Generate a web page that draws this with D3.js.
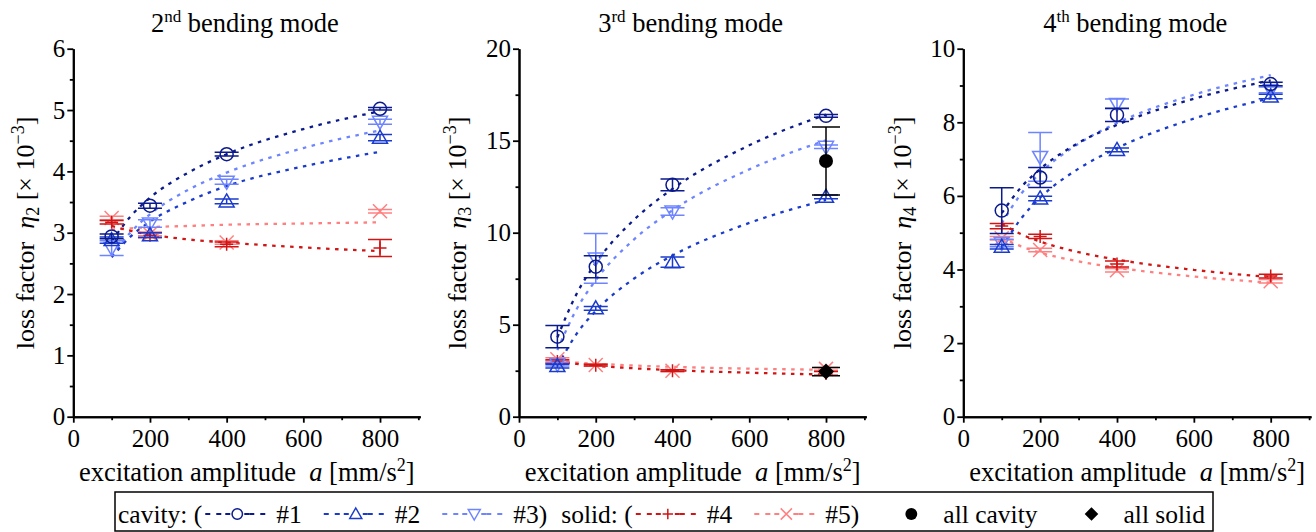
<!DOCTYPE html>
<html><head><meta charset="utf-8">
<script src="https://cdn.jsdelivr.net/npm/d3@7"></script>
<style>
body{margin:0;background:#fff}
svg{display:block}
text{font-family:"Liberation Serif","Times New Roman",serif;fill:#000}
</style>
</head><body>
<svg id="c" width="1316" height="532"></svg>
<script>
// ---------- DATA ----------
const amplitudes = [100, 200, 400, 800];
const fitAmplitudes = [100, 150, 200, 300, 400, 600, 800];
const seriesLabels = ["#1", "#2", "#3", "#4", "#5"];
const modeNumbers = ["2", "3", "4"];
const modeSuffixes = ["nd", "rd", "th"];
const xTickValues = [0, 200, 400, 600, 800];

// 2nd bending mode, eta2 [x10^-3]
const eta2Mean = [
  [2.94, 3.44, 4.28, 5.02],
  [2.88, 2.96, 3.51, 4.55],
  [2.75, 3.15, 3.83, 4.81],
  [3.17, 2.96, 2.81, 2.75],
  [3.24, 2.98, 2.84, 3.35]
];
const eta2Err = [
  [0.04, 0.04, 0.03, 0.02],
  [0.05, 0.04, 0.04, 0.05],
  [0.12, 0.06, 0.04, 0.04],
  [0.03, 0.04, 0.04, 0.14],
  [0.03, 0.03, 0.03, 0.03]
];
const eta2Fit = [
  [2.86, 3.27, 3.57, 3.98, 4.28, 4.69, 4.98],
  [2.60, 2.94, 3.18, 3.51, 3.76, 4.08, 4.32],
  [2.61, 3.01, 3.30, 3.70, 3.98, 4.38, 4.67],
  [3.11, 3.03, 2.97, 2.89, 2.84, 2.76, 2.70],
  [3.05, 3.07, 3.09, 3.11, 3.13, 3.15, 3.17]
];

// 3rd bending mode, eta3 [x10^-3]
const eta3Mean = [
  [4.35, 8.15, 12.6, 16.35],
  [2.75, 5.89, 8.40, 11.95],
  [2.86, 8.60, 11.15, 14.67],
  [3.00, 2.80, 2.50, 2.35],
  [3.12, 2.81, 2.50, 2.60]
];
const eta3Err = [
  [0.60, 0.60, 0.32, 0.08],
  [0.10, 0.10, 0.28, 0.10],
  [0.10, 1.35, 0.20, 0.10],
  [0.10, 0.05, 0.05, 0.10],
  [0.08, 0.05, 0.05, 0.08]
];
const eta3Fit = [
  [4.31, 6.67, 8.35, 10.71, 12.38, 14.75, 16.42],
  [2.73, 4.50, 5.75, 7.51, 8.76, 10.53, 11.78],
  [3.62, 5.84, 7.42, 9.64, 11.22, 13.44, 15.02],
  [3.01, 2.87, 2.77, 2.63, 2.53, 2.39, 2.29],
  [3.04, 2.94, 2.88, 2.78, 2.71, 2.61, 2.55]
];
const eta3AllCavity = [13.9];
const eta3AllCavityErr = [1.85];
const eta3AllSolid = [2.45];
const eta3AllSolidErr = [0.22];
const allAmplitude = [800];

// 4th bending mode, eta4 [x10^-3]
const eta4Mean = [
  [5.60, 6.50, 8.20, 9.04],
  [4.62, 5.93, 7.25, 8.70],
  [4.72, 7.06, 8.50, 8.88],
  [5.18, 4.90, 4.15, 3.82],
  [4.85, 4.53, 3.98, 3.68]
];
const eta4Err = [
  [0.62, 0.27, 0.18, 0.05],
  [0.06, 0.06, 0.05, 0.06],
  [0.10, 0.66, 0.13, 0.08],
  [0.07, 0.06, 0.08, 0.05],
  [0.05, 0.05, 0.05, 0.05]
];
const eta4Fit = [
  [5.53, 6.23, 6.73, 7.44, 7.93, 8.64, 9.14],
  [4.59, 5.38, 5.95, 6.74, 7.30, 8.10, 8.66],
  [5.25, 6.05, 6.62, 7.42, 7.98, 8.75, 9.28],
  [5.24, 4.96, 4.76, 4.47, 4.27, 3.99, 3.79],
  [4.87, 4.63, 4.46, 4.22, 4.05, 3.81, 3.64]
];

// ---------- STYLE ----------
const colors = ["#0b1a8c", "#1a3bcc", "#6e85ff", "#d11515", "#ff8080"];
const markers = ["circle", "up", "down", "plus", "cross"];
const TICKFONT = 25, LABELFONT = 26.5, TITLEFONT = 26.5;

const svg = d3.select("#c");

function marker(g, type, cx, cy, color, s = 1, fill = "none") {
  const sw = 1.5;
  if (type === "circle") {
    g.append("circle").attr("cx", cx).attr("cy", cy).attr("r", 6.5 * s)
      .attr("fill", fill).attr("stroke", color).attr("stroke-width", sw);
  } else if (type === "up") {
    g.append("path").attr("d", `M${cx},${cy - 7.5 * s}L${cx + 7.5 * s},${cy + 5.5 * s}L${cx - 7.5 * s},${cy + 5.5 * s}Z`)
      .attr("fill", fill).attr("stroke", color).attr("stroke-width", sw);
  } else if (type === "down") {
    g.append("path").attr("d", `M${cx},${cy + 7.5 * s}L${cx + 7.5 * s},${cy - 5.5 * s}L${cx - 7.5 * s},${cy - 5.5 * s}Z`)
      .attr("fill", fill).attr("stroke", color).attr("stroke-width", sw);
  } else if (type === "plus") {
    g.append("path").attr("d", `M${cx - 6.5 * s},${cy}H${cx + 6.5 * s}M${cx},${cy - 6.5 * s}V${cy + 6.5 * s}`)
      .attr("fill", "none").attr("stroke", color).attr("stroke-width", sw);
  } else if (type === "cross") {
    const d = 7 * s;
    g.append("path").attr("d", `M${cx - d},${cy - d}L${cx + d},${cy + d}M${cx + d},${cy - d}L${cx - d},${cy + d}`)
      .attr("fill", "none").attr("stroke", color).attr("stroke-width", sw);
  } else if (type === "dot") {
    g.append("circle").attr("cx", cx).attr("cy", cy).attr("r", 7 * s).attr("fill", "#000");
  } else if (type === "diamond") {
    const d = 8 * s;
    g.append("path").attr("d", `M${cx},${cy - d}L${cx + d},${cy}L${cx},${cy + d}L${cx - d},${cy}Z`).attr("fill", "#000");
  }
}

function errorBar(g, x, y, a, m, e, color, cap) {
  const xp = x(a), y1 = y(m + e), y2 = y(m - e);
  g.append("path")
    .attr("d", `M${xp},${y1}V${y2}M${xp - cap},${y1}H${xp + cap}M${xp - cap},${y2}H${xp + cap}`)
    .attr("fill", "none").attr("stroke", color).attr("stroke-width", 1.5);
}

const yTop = 48.7, yBot = 416.7;
const panels = [
  { mean: eta2Mean, err: eta2Err, fit: eta2Fit, yMax: 6, yStep: 1, px0: 73.3, px800: 380, labelX: 34, sub: "2" },
  { mean: eta3Mean, err: eta3Err, fit: eta3Fit, yMax: 20, yStep: 5, px0: 519, px800: 826, labelX: 466, sub: "3" },
  { mean: eta4Mean, err: eta4Err, fit: eta4Fit, yMax: 10, yStep: 2, px0: 963.3, px800: 1270.7, labelX: 911, sub: "4" }
];

panels.forEach((p, pi) => {
  const k = (p.px800 - p.px0) / 800;
  const x = d3.scaleLinear().domain([0, 905]).range([p.px0, p.px0 + 905 * k]);
  const y = d3.scaleLinear().domain([0, p.yMax]).range([yBot, yTop]);
  const g = svg.append("g");

  // fit curves
  const line = d3.line().x(d => x(d[0])).y(d => y(d[1])).curve(d3.curveMonotoneX);
  [4, 3, 2, 1, 0].forEach(si => {
    g.append("path")
      .datum(fitAmplitudes.map((a, j) => [a, p.fit[si][j]]))
      .attr("d", line)
      .attr("fill", "none").attr("stroke", colors[si]).attr("stroke-width", 2.3)
      .attr("stroke-dasharray", "3.5 5.5");
  });

  // error bars + markers
  [4, 3, 2, 1, 0].forEach(si => {
    amplitudes.forEach((a, j) => {
      errorBar(g, x, y, a, p.mean[si][j], p.err[si][j], colors[si], 12);
      marker(g, markers[si], x(a), y(p.mean[si][j]), colors[si]);
    });
  });

  if (pi === 1) {
    allAmplitude.forEach((a, j) => {
      errorBar(g, x, y, a, eta3AllSolid[j], eta3AllSolidErr[j], "#000", 14);
      marker(g, "diamond", x(a), y(eta3AllSolid[j]), "#000");
      errorBar(g, x, y, a, eta3AllCavity[j], eta3AllCavityErr[j], "#000", 14);
      marker(g, "dot", x(a), y(eta3AllCavity[j]), "#000");
    });
  }

  // axes
  const yMajor = d3.range(0, p.yMax + 0.001, p.yStep);
  const yMinor = d3.range(p.yStep / 2, p.yMax, p.yStep);
  const xMinor = [100, 300, 500, 700, 900];

  const ax = g.append("g").attr("transform", `translate(${p.px0},0)`)
    .call(d3.axisLeft(y).tickValues(yMajor).tickSize(6).tickPadding(2).tickSizeOuter(0).tickFormat(d3.format("d")));
  const axm = g.append("g").attr("transform", `translate(${p.px0},0)`)
    .call(d3.axisLeft(y).tickValues(yMinor).tickSize(3.5).tickSizeOuter(0).tickFormat(""));
  const bx = g.append("g").attr("transform", `translate(0,${yBot})`)
    .call(d3.axisBottom(x).tickValues(xTickValues).tickSize(6).tickPadding(7).tickSizeOuter(0).tickFormat(d3.format("d")));
  const bxm = g.append("g").attr("transform", `translate(0,${yBot})`)
    .call(d3.axisBottom(x).tickValues(xMinor).tickSize(3.5).tickSizeOuter(0).tickFormat(""));
  [ax, axm, bx, bxm].forEach(a => {
    a.attr("font-size", TICKFONT).attr("font-family", "Liberation Serif, serif");
    a.selectAll("path.domain").attr("stroke", "#000").attr("stroke-width", 2);
    a.selectAll(".tick line").attr("stroke", "#000").attr("stroke-width", 1.8);
    a.selectAll("text").attr("fill", "#000");
  });

  // title
  const cx = (p.px0 + p.px0 + 905 * k) / 2;
  const t = svg.append("text").attr("x", cx - 2).attr("y", 32).attr("text-anchor", "middle").attr("font-size", TITLEFONT);
  t.append("tspan").text(modeNumbers[pi]);
  t.append("tspan").attr("dy", -10).attr("font-size", 17).text(modeSuffixes[pi]);
  t.append("tspan").attr("dy", 10).text("\u00a0bending mode");

  // x label
  const xl = svg.append("text").attr("x", cx).attr("y", 481).attr("text-anchor", "middle").attr("font-size", LABELFONT);
  xl.append("tspan").text("excitation amplitude\u00a0\u00a0");
  xl.append("tspan").attr("font-style", "italic").text("a");
  xl.append("tspan").text("\u00a0[mm/s");
  xl.append("tspan").attr("dy", -10).attr("font-size", 18).text("2");
  xl.append("tspan").attr("dy", 10).text("]");

  // y label
  const yl = svg.append("text").attr("transform", `translate(${p.labelX},233) rotate(-90)`)
    .attr("text-anchor", "middle").attr("font-size", 26);
  yl.append("tspan").text("loss factor\u00a0\u00a0");
  yl.append("tspan").attr("font-style", "italic").text("\u03b7");
  yl.append("tspan").attr("dy", 5).attr("font-size", 18).text(p.sub);
  yl.append("tspan").attr("dy", -5).text("\u00a0[\u00d7 10");
  yl.append("tspan").attr("dy", -10).attr("font-size", 18).text("\u22123");
  yl.append("tspan").attr("dy", 10).text("]");
});

// ---------- LEGEND ----------
const lg = svg.append("g");
const LF = 25.5, base = 523, midY = 514;
lg.append("rect").attr("x", 115).attr("y", 492).attr("width", 1098).attr("height", 39)
  .attr("fill", "none").attr("stroke", "#000").attr("stroke-width", 1.5);

let cur = 118;
function ltext(s) {
  const t = lg.append("text").attr("x", cur).attr("y", base).attr("font-size", LF).text(s);
  cur += t.node().getComputedTextLength();
}
function lsample(si) {
  const w = 64;
  lg.append("line").attr("x1", cur).attr("x2", cur + w).attr("y1", midY).attr("y2", midY)
    .attr("stroke", colors[si]).attr("stroke-width", 2).attr("stroke-dasharray", "5 6");
  const c = cur + w / 2;
  lg.append("rect").attr("x", c - 8).attr("y", midY - 8).attr("width", 16).attr("height", 16).attr("fill", "#fff");
  lg.append("line").attr("x1", c - 12).attr("x2", c - 7).attr("y1", midY).attr("y2", midY).attr("stroke", colors[si]).attr("stroke-width", 2);
  lg.append("line").attr("x1", c + 7).attr("x2", c + 12).attr("y1", midY).attr("y2", midY).attr("stroke", colors[si]).attr("stroke-width", 2);
  marker(lg, markers[si], c, midY, colors[si], 0.8);
  cur += w;
}
ltext("cavity: (");
cur += 3; lsample(0); cur += 7; ltext(seriesLabels[0]);
cur += 22; lsample(1); cur += 7; ltext(seriesLabels[1]);
cur += 22; lsample(2); cur += 7; ltext(seriesLabels[2] + ")");
cur += 14; ltext("solid: (");
cur += 3; lsample(3); cur += 7; ltext(seriesLabels[3]);
cur += 22; lsample(4); cur += 7; ltext(seriesLabels[4] + ")");
cur += 52; marker(lg, "dot", cur, midY, "#000", 0.85); cur += 32; ltext("all cavity");
cur += 54; marker(lg, "diamond", cur, midY, "#000", 0.85); cur += 32; ltext("all solid");
</script>
</body></html>
